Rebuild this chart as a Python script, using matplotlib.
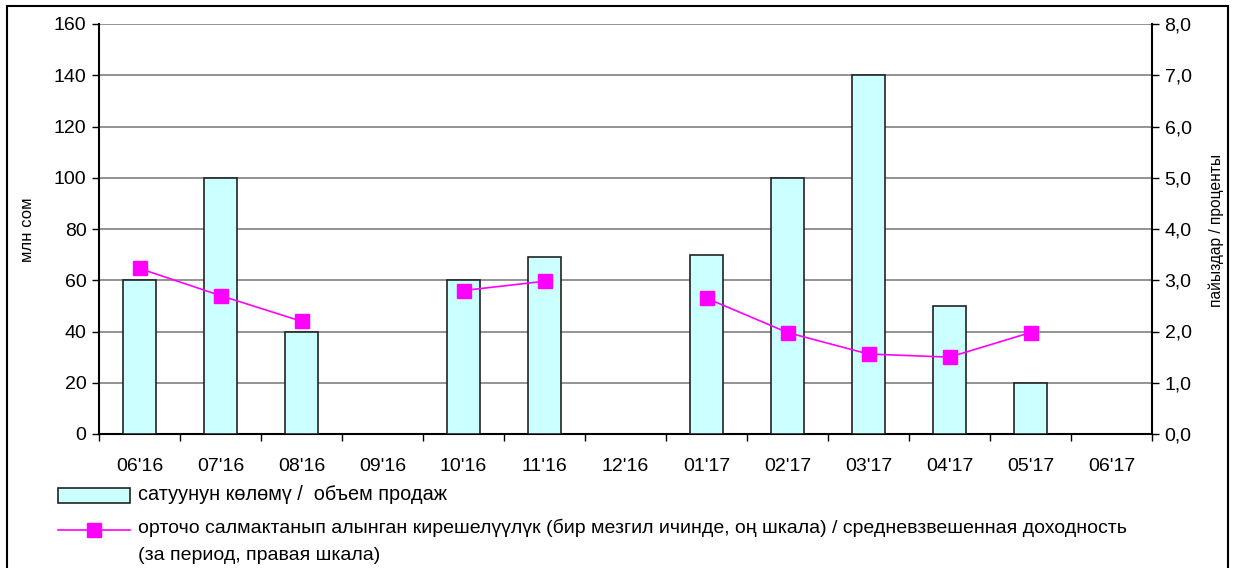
import numpy as np
import matplotlib
matplotlib.use("Agg")
import matplotlib.pyplot as plt
from matplotlib.patches import Rectangle
from matplotlib.lines import Line2D

plt.rcParams['font.family'] = ['Liberation Sans', 'DejaVu Sans']

categories = ["06'16", "07'16", "08'16", "09'16", "10'16", "11'16", "12'16",
              "01'17", "02'17", "03'17", "04'17", "05'17", "06'17"]
volume = [60, 100, 40, 0, 60, 69, 0, 70, 100, 140, 50, 20, 0]
yield_pct = [3.23, 2.70, 2.20, np.nan, 2.80, 2.98, np.nan,
             2.65, 1.98, 1.56, 1.50, 1.98, np.nan]
left_ticks = [0, 20, 40, 60, 80, 100, 120, 140, 160]
right_ticks = [0, 1, 2, 3, 4, 5, 6, 7, 8]
right_labels = ["0,0", "1,0", "2,0", "3,0", "4,0", "5,0", "6,0", "7,0", "8,0"]

bar_label = "сатуунун көлөмү /  объем продаж"
line_label = ("орточо салмактанып алынган кирешелүүлүк (бир мезгил ичинде, оң шкала) / средневзвешенная доходность\n"
              "(за период, правая шкала)")

W, H = 1235, 568
fig = plt.figure(figsize=(12.35, 5.68), dpi=100)
ax = fig.add_axes([99/W, 1-434/H, (1152-99)/W, (434-24)/H])
ax2 = ax.twinx()

x = np.arange(len(categories))
vals = [v if v > 0 else np.nan for v in volume]
ax.bar(x, vals, width=0.41, color='#CCFFFF', edgecolor='#222222', linewidth=1.2, zorder=3)
ax.set_xlim(-0.5, len(categories) - 0.5)
ax.set_ylim(0, 160)
ax.set_yticks(left_ticks)
ax.grid(axis='y', color='#808080', linewidth=1.2, zorder=0)
ax.set_axisbelow(True)

ax.set_xticks(x)
ax.set_xticklabels(categories)
ax.set_xticks(np.arange(-0.5, len(categories), 1), minor=True)
ax.tick_params(axis='x', which='major', length=0, pad=17, labelsize=14)
ax.tick_params(axis='x', which='minor', length=5, direction='out', width=1)
ax.tick_params(axis='y', length=5, direction='out', width=1, labelsize=14, pad=4)

for sp in ['top', 'right']:
    ax.spines[sp].set_visible(False)
ax.spines['left'].set_linewidth(1.5)
ax.spines['bottom'].set_linewidth(1.5)

ax2.plot(x, yield_pct, color='#FF00FF', linewidth=1.2, marker='s',
         markersize=10, markerfacecolor='#FF00FF', markeredgecolor='#FF00FF', zorder=5)
ax2.set_ylim(0, 8)
ax2.set_yticks(right_ticks)
ax2.set_yticklabels(right_labels)
ax2.tick_params(axis='y', length=5, direction='out', width=1, labelsize=14, pad=4)
for sp in ['top', 'left', 'bottom']:
    ax2.spines[sp].set_visible(False)
ax2.spines['right'].set_linewidth(1.5)

fig.text(28/W, 1-230/H, "млн сом", rotation=90, ha='center', va='center', fontsize=12)
fig.text(1216/W, 1-230/H, "пайыздар / проценты", rotation=90, ha='center', va='center', fontsize=11.2)

# legend (manual)
fig.patches.append(Rectangle((58/W, 1-503/H), 72/W, 15/H, transform=fig.transFigure,
                             facecolor='#CCFFFF', edgecolor='#222222', linewidth=1.2))
fig.text(138/W, 1-495/H, bar_label, ha='left', va='center', fontsize=14.3)
fig.lines.append(Line2D([58/W, 130/W], [1-530/H, 1-530/H], transform=fig.transFigure,
                        color='#FF00FF', linewidth=1.2))
fig.lines.append(Line2D([94/W], [1-530/H], transform=fig.transFigure, color='#FF00FF',
                        marker='s', markersize=10, linestyle='none'))
fig.text(138/W, 1-519/H, line_label, ha='left', va='top', fontsize=14, linespacing=1.75)

fig.patches.append(Rectangle((7/W, -0.02), (1228-7)/W, 1.02-6/H,
                             transform=fig.transFigure, fill=False, edgecolor='black', linewidth=1.5))

fig.savefig("out.png", dpi=100)
